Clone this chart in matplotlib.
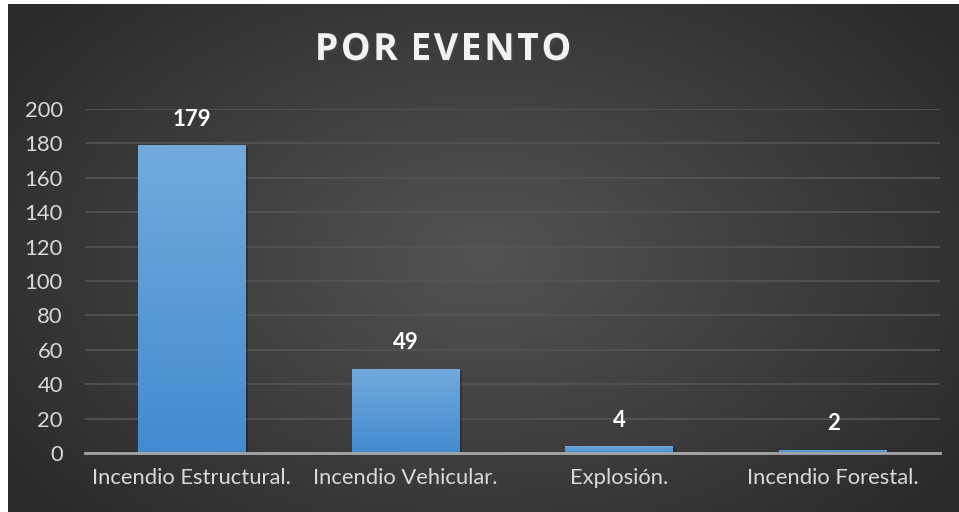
import numpy as np
import matplotlib.pyplot as plt
from matplotlib import patheffects

categorias = ['Incendio Estructural.', 'Incendio Vehicular.', 'Explosión.', 'Incendio Forestal.']
valores = [179, 49, 4, 2]
y_ticks = [0, 20, 40, 60, 80, 100, 120, 140, 160, 180, 200]
titulo = 'POR EVENTO'

W, H = 959, 512
fig = plt.figure(figsize=(W / 100, H / 100), dpi=100, facecolor='white')

# fondo oscuro con degradado radial
bg = fig.add_axes([8 / W, 0, (W - 8) / W, (H - 4) / H])
bg.set_axis_off()
yy, xx = np.mgrid[0:1:300j, 0:1:500j]
r = np.sqrt(((xx - 0.5) / 0.62) ** 2 + ((yy - 0.5) / 0.75) ** 2)
r = np.clip(r, 0, 1)
lo = np.array([0x2a, 0x2a, 0x2a]) / 255
hi = np.array([0x53, 0x53, 0x53]) / 255
img = hi[None, None, :] * (1 - r[..., None]) + lo[None, None, :] * r[..., None]
bg.imshow(img, aspect='auto', extent=[0, 1, 0, 1], origin='lower')
bg.set_xlim(0, 1)
bg.set_ylim(0, 1)

ax = fig.add_axes([85 / W, 1 - 453 / H, (940 - 85) / W, (453 - 109) / H])
ax.patch.set_alpha(0)
x = np.arange(len(categorias))
ancho = 0.505
ax.set_xlim(-0.5, len(categorias) - 0.5)
ax.set_ylim(0, 200)

grad = np.linspace(0, 1, 256)[:, None]
top_c = np.array([114, 170, 222]) / 255
bot_c = np.array([66, 139, 206]) / 255
grad_img = bot_c[None, None, :] * (1 - grad[..., None]) + top_c[None, None, :] * grad[..., None]

bars = ax.bar(x, valores, width=ancho, color='none', zorder=3)
for b, v in zip(bars, valores):
    x0 = b.get_x()
    # sombra
    ax.bar(b.get_x() + ancho / 2 + 0.012, v, width=ancho, bottom=-1.2,
           color='black', alpha=0.25, zorder=2)
    im = ax.imshow(grad_img, extent=[x0, x0 + ancho, 0, v], origin='lower',
                   aspect='auto', zorder=3)
    im.set_clip_path(b)
    ax.text(b.get_x() + ancho / 2, v + 9, str(v), ha='center', va='bottom',
            color='white', fontsize=16, fontweight='bold', family='Lato', zorder=5)

ax.set_yticks(y_ticks)
ax.yaxis.grid(True, color='#555555', linewidth=1.2, zorder=0)
ax.set_axisbelow(True)
for s in ['top', 'right', 'left']:
    ax.spines[s].set_visible(False)
ax.spines['bottom'].set_color('#a6a6a6')
ax.spines['bottom'].set_linewidth(2)
ax.spines['bottom'].set_zorder(4)
ax.tick_params(axis='both', length=0, colors='#d9d9d9', labelsize=15.8)
ax.tick_params(axis='y', pad=16)
ax.tick_params(axis='x', pad=11)
ax.set_xticks(x)
ax.set_xticklabels(categorias)
for t in ax.get_xticklabels() + ax.get_yticklabels():
    t.set_family('Lato')

# título con espaciado entre letras
renderer = fig.canvas.get_renderer()
estilo = dict(color='#f2f2f2', fontsize=27, fontweight='bold', family='Open Sans',
              path_effects=[patheffects.withSimplePatchShadow(offset=(1.5, -1.5), alpha=0.6)])
anchos = []
for ch in titulo:
    t = fig.text(0, 0, ch if ch != ' ' else 'I', **estilo)
    anchos.append(t.get_window_extent(renderer).width * (0.6 if ch == ' ' else 1))
    t.remove()
extra = 2.5
total = sum(anchos) + extra * (len(titulo) - 1)
xpos = 443 - total / 2
for ch, w in zip(titulo, anchos):
    if ch != ' ':
        fig.text(xpos / W, 1 - 50 / H, ch, ha='left', va='center', **estilo)
    xpos += w + extra

fig.savefig('out.png', dpi=100, facecolor=fig.get_facecolor())
